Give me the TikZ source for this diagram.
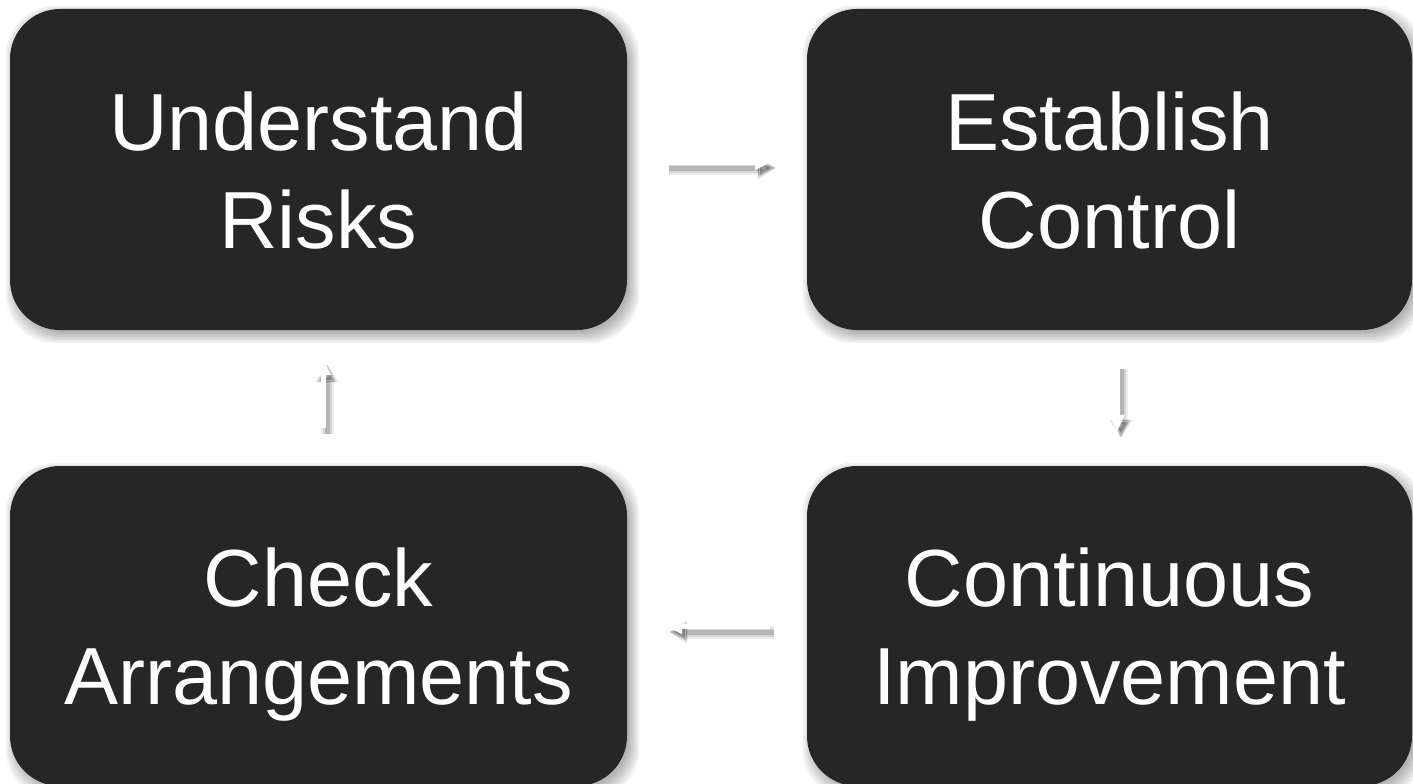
\documentclass[tikz,border=0pt]{standalone}
\usepackage{fontspec}
\setmainfont{Liberation Sans}
\usetikzlibrary{arrows.meta,backgrounds,calc}
\definecolor{boxfill}{HTML}{262626}
\begin{document}
\begin{tikzpicture}[x=1pt,y=-1pt,
  stage/.style={fill=boxfill, text=white, rounded corners=50pt, align=center,
    inner sep=0pt, font=\fontsize{81}{98}\selectfont,
    text height=157pt, text depth=0pt},
  flow/.style={line width=5pt, draw=white, -{Triangle[width=15pt,length=17pt]}},
  flowshade/.style={draw=black, -{Triangle[width=#1,length=18pt]}},
]
\useasboundingbox (0,0) rectangle (1413,784);

% the four stages of the cycle
\node[stage, minimum width=617pt, minimum height=321pt] (UR) at (318.5,169.5) {Understand\\Risks};
\node[stage, minimum width=605pt, minimum height=321pt] (EC) at (1109.5,169.5) {Establish\\Control};
\node[stage, minimum width=605pt, minimum height=320pt] (CI) at (1109.5,626) {Continuous\\Improvement};
\node[stage, minimum width=617pt, minimum height=320pt] (CA) at (318.5,626) {Check\\Arrangements};

% soft drop shadows behind the boxes
\begin{scope}[on background layer]
  \foreach \n in {UR,EC,CI,CA}{
    \foreach \k in {-2,0,2,4,6,8}{
      \fill[black, opacity=0.055, rounded corners=50pt]
        ($(\n.north west)+(4-\k,5-\k)$) rectangle ($(\n.south east)+(4+\k,5+\k)$);
    }
  }
\end{scope}

% end points of the arrows between the stages
\coordinate (a1) at ([xshift=38pt,yshift=7.5pt]UR.east);
\coordinate (b1) at ([xshift=-35pt,yshift=7.5pt]EC.west);
\coordinate (a2) at ([xshift=7.5pt,yshift=-33pt]EC.south);
\coordinate (b2) at ([xshift=7.5pt,yshift=34pt]CI.north);
\coordinate (a3) at ([xshift=-37pt]CI.west);
\coordinate (b3) at ([xshift=38pt]CA.east);
\coordinate (a4) at ([xshift=4.5pt,yshift=38pt]CA.north);
\coordinate (b4) at ([xshift=4.5pt,yshift=-28pt]UR.south);

% white arrows with a soft shadow
\foreach \a/\b in {a1/b1,a2/b2,a3/b3,a4/b4}{
  \draw[flowshade=23pt, line width=13pt, opacity=0.07] ($(\a)+(4,6)$) -- ($(\b)+(4,6)$);
  \draw[flowshade=19pt, line width=9pt, opacity=0.1] ($(\a)+(4,6)$) -- ($(\b)+(4,6)$);
  \draw[flowshade=15pt, line width=5pt, opacity=0.15] ($(\a)+(4,6)$) -- ($(\b)+(4,6)$);
  \draw[flow] (\a) -- (\b);
}
\end{tikzpicture}
\end{document}
